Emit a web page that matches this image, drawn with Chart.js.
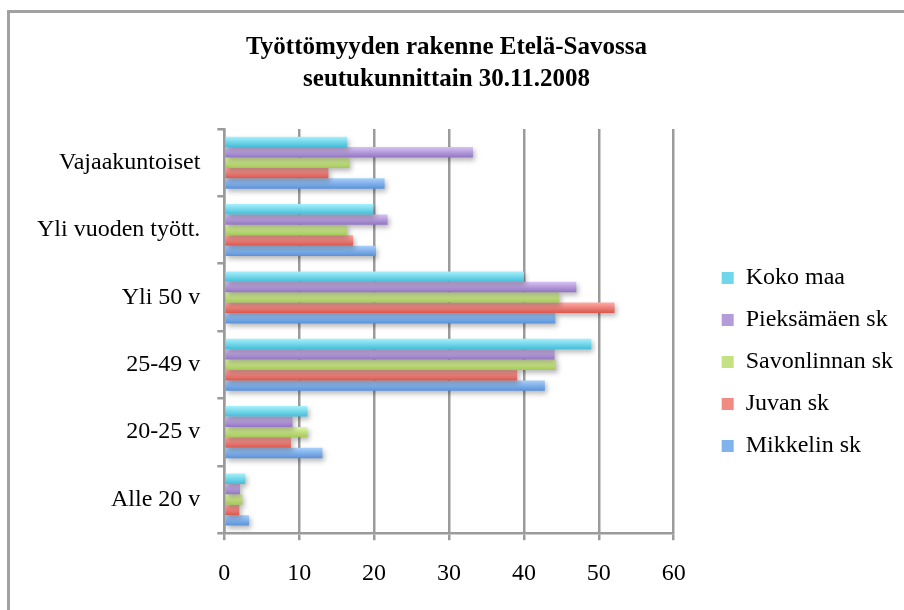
<!DOCTYPE html>
<html>
<head>
<meta charset="utf-8">
<script src="https://cdn.jsdelivr.net/npm/chart.js@4.4.1/dist/chart.umd.min.js"></script>
<style>
  html, body { margin: 0; padding: 0; background: #ffffff; }
  #wrap { position: relative; width: 904px; height: 610px; overflow: hidden; }
  #frame { position: absolute; left: 7px; top: 10px; width: 920px; height: 640px;
           border-left: 3px solid #a2a2a2; border-top: 3px solid #a2a2a2; pointer-events: none; }
  canvas { position: absolute; left: 0; top: 0; }
</style>
</head>
<body>
<div id="wrap">
  <canvas id="c" width="904" height="610"></canvas>
  <div id="frame"></div>
</div>
<script>
const categories = ['Vajaakuntoiset', 'Yli vuoden tyött.', 'Yli 50 v', '25-49 v', '20-25 v', 'Alle 20 v'];
const kokoMaa     = [16.4, 19.9, 40.0, 49.0, 11.1, 2.8];
const pieksamaki  = [33.2, 21.8, 47.0, 44.1, 9.1, 2.1];
const savonlinna  = [16.7, 16.4, 44.7, 44.3, 11.1, 2.4];
const juva        = [13.9, 17.2, 52.1, 39.1, 8.9, 2.0];
const mikkeli     = [21.4, 20.2, 44.2, 42.8, 13.1, 3.3];
const seriesNames = ['Koko maa', 'Pieksämäen sk', 'Savonlinnan sk', 'Juvan sk', 'Mikkelin sk'];
const xTicks = [0, 10, 20, 30, 40, 50, 60];

const palette = [
  { mid: '#6fd6ec', top: '#a6f1fc', bottom: '#45bdd8' },
  { mid: '#b49bd9', top: '#d6c2f1', bottom: '#9274c2' },
  { mid: '#c4e283', top: '#e1f6ab', bottom: '#a3c858' },
  { mid: '#f08a82', top: '#ffaca5', bottom: '#d9564e' },
  { mid: '#80b2ee', top: '#aacffa', bottom: '#5992da' }
];

const seriesData = [kokoMaa, pieksamaki, savonlinna, juva, mikkeli];

const barStyle = {
  id: 'barStyle',
  beforeDatasetDraw(chart, args) {
    const ctx = chart.ctx;
    const p = palette[args.index];
    args.meta.data.forEach(el => {
      const t = el.y - el.height / 2, b = el.y + el.height / 2;
      const g = ctx.createLinearGradient(0, t, 0, b);
      g.addColorStop(0, p.top);
      g.addColorStop(1, p.bottom);
      el.options.backgroundColor = g;
    });
    ctx.save();
    ctx.shadowColor = 'rgba(0,0,0,0.28)';
    ctx.shadowBlur = 5;
    ctx.shadowOffsetX = 2;
    ctx.shadowOffsetY = 3;
  },
  afterDatasetDraw(chart) {
    chart.ctx.restore();
  }
};

// place the legend block: gap to the right of the plot, and centred a bit below the plot centre
const legendPlace = {
  id: 'legendPlace',
  afterLayout(chart) {
    const lg = chart.legend;
    const ca = chart.chartArea;
    const pad = lg.options.labels.padding;
    const dx = (ca.right + 48) - (lg.left + pad);
    lg.left += dx; lg.right += dx;
    const cur = (lg.top + lg.bottom) / 2;
    const target = (ca.top + ca.bottom) / 2 + 31;
    const dy = target - cur;
    lg.top += dy; lg.bottom += dy;
  }
};

const gridGray = '#9b9b9b';
const serif = 'Liberation Serif';

new Chart(document.getElementById('c'), {
  type: 'bar',
  data: {
    labels: categories,
    datasets: seriesNames.map((name, i) => ({
      label: name,
      data: seriesData[i],
      backgroundColor: () => palette[i].mid,
      borderWidth: 0,
      categoryPercentage: 0.773,
      barPercentage: 1.0
    }))
  },
  options: {
    indexAxis: 'y',
    responsive: false,
    animation: false,
    events: [],
    layout: { padding: { left: 20, right: 31, top: 0, bottom: 3 } },
    scales: {
      x: {
        min: 0, max: 60,
        afterBuildTicks: (axis) => { axis.ticks = xTicks.map(v => ({ value: v })); },
        grid: { color: gridGray, lineWidth: 2.5, drawTicks: true, tickLength: 7, tickColor: gridGray },
        border: { color: gridGray, width: 2.5 },
        ticks: { color: '#000', font: { family: serif, size: 24 }, padding: 19 }
      },
      y: {
        grid: { drawOnChartArea: false, drawTicks: true, tickLength: 7, color: gridGray, lineWidth: 2.5 },
        border: { color: gridGray, width: 2.5 },
        ticks: { color: '#000', font: { family: serif, size: 24 }, padding: 17 }
      }
    },
    plugins: {
      title: {
        display: true,
        text: ['Työttömyyden rakenne Etelä-Savossa', 'seutukunnittain 30.11.2008'],
        color: '#000',
        font: { family: serif, size: 25, weight: 'bold', lineHeight: 1.3 },
        padding: { top: 31, bottom: 33 }
      },
      legend: {
        position: 'right',
        labels: {
          color: '#000',
          font: { family: serif, size: 24 },
          boxWidth: 12, boxHeight: 12,
          padding: 18
        }
      },
      tooltip: { enabled: false }
    }
  },
  plugins: [barStyle, legendPlace]
});
</script>
</body>
</html>
